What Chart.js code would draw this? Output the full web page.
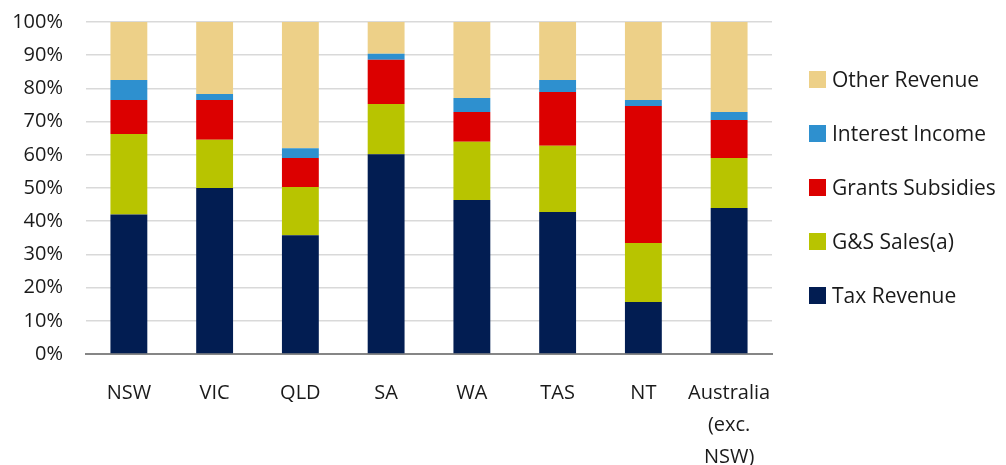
<!DOCTYPE html>
<html>
<head>
<meta charset="utf-8">
<script src="https://cdn.jsdelivr.net/npm/chart.js@4"></script>
<style>
  html, body { margin: 0; padding: 0; background: #fff; }
  .wrap { position: relative; width: 1006px; height: 465px; }
  .legend { position: absolute; left: 809px; top: 52px; font-family: 'Open Sans', sans-serif; font-size: 21px; color: #1a1a1a; }
  .legend .lg { display: flex; align-items: center; height: 54px; white-space: nowrap; }
  .legend .lg i { display: inline-block; width: 17px; height: 17px; margin-right: 6px; }
</style>
</head>
<body>
<div class="wrap">
  <canvas id="revChart" width="1006" height="465"></canvas>
  <div class="legend" id="revLegend"></div>
</div>
<script>
(function () {
  'use strict';

  const categories = ['NSW', 'VIC', 'QLD', 'SA', 'WA', 'TAS', 'NT', ['Australia', '(exc.', 'NSW)']];
  const taxRevenue = [42, 50, 35.8, 60.2, 46.4, 42.8, 15.7, 44];
  const gsSales = [24.3, 14.5, 14.5, 15.1, 17.5, 19.9, 17.7, 15];
  const grantsSubsidies = [10.2, 12, 8.7, 13.3, 9, 16.2, 41.3, 11.5];
  const interestIncome = [6, 1.8, 3, 1.8, 4.2, 3.6, 1.8, 2.4];
  const otherRevenue = [17.5, 21.7, 38, 9.6, 22.9, 17.5, 23.5, 27.1];

  const series = [
    ['Tax Revenue', taxRevenue, '#021d52'],
    ['G&S Sales(a)', gsSales, '#b8c400'],
    ['Grants Subsidies', grantsSubsidies, '#dc0000'],
    ['Interest Income', interestIncome, '#2e90cf'],
    ['Other Revenue', otherRevenue, '#edd088'],
  ];

  const font = { family: "'Open Sans', sans-serif", size: 20 };

  new Chart(document.getElementById('revChart').getContext('2d'), {
    type: 'bar',
    data: {
      labels: categories,
      datasets: series.map(([label, data, color]) => ({
        label, data, backgroundColor: color, borderWidth: 0,
        barPercentage: 0.43, categoryPercentage: 1,
      })),
    },
    options: {
      responsive: false,
      animation: false,
      layout: { padding: { left: 0, right: 234, top: 22, bottom: 0 } },
      plugins: { legend: { display: false }, tooltip: { enabled: false } },
      scales: {
        x: {
          stacked: true,
          afterFit: (s) => { s.height = 111; },
          grid: { display: false, drawTicks: false },
          border: { color: '#868686', width: 2 },
          ticks: { color: '#1a1a1a', font: { ...font, lineHeight: 1.6 }, padding: 23, maxRotation: 0, autoSkip: false },
        },
        y: {
          stacked: true,
          min: 0,
          max: 100,
          // fixed axis width; drop the extra top/bottom room the tick padding asks for
          afterFit: (s) => { s.width = 86; s.paddingTop = 0; s.paddingBottom = 0; },
          grid: { color: '#d9d9d9', lineWidth: 1.5, drawTicks: false },
          border: { display: false },
          ticks: { stepSize: 10, color: '#1a1a1a', font, padding: 23, callback: (v) => v + '%' },
        },
      },
    },
  });

  document.getElementById('revLegend').innerHTML = series.slice().reverse()
    .map(([label, , color]) => `<div class="lg"><i style="background:${color}"></i>${label.replace('&', '&amp;')}</div>`).join('');
})();
</script>
</body>
</html>
